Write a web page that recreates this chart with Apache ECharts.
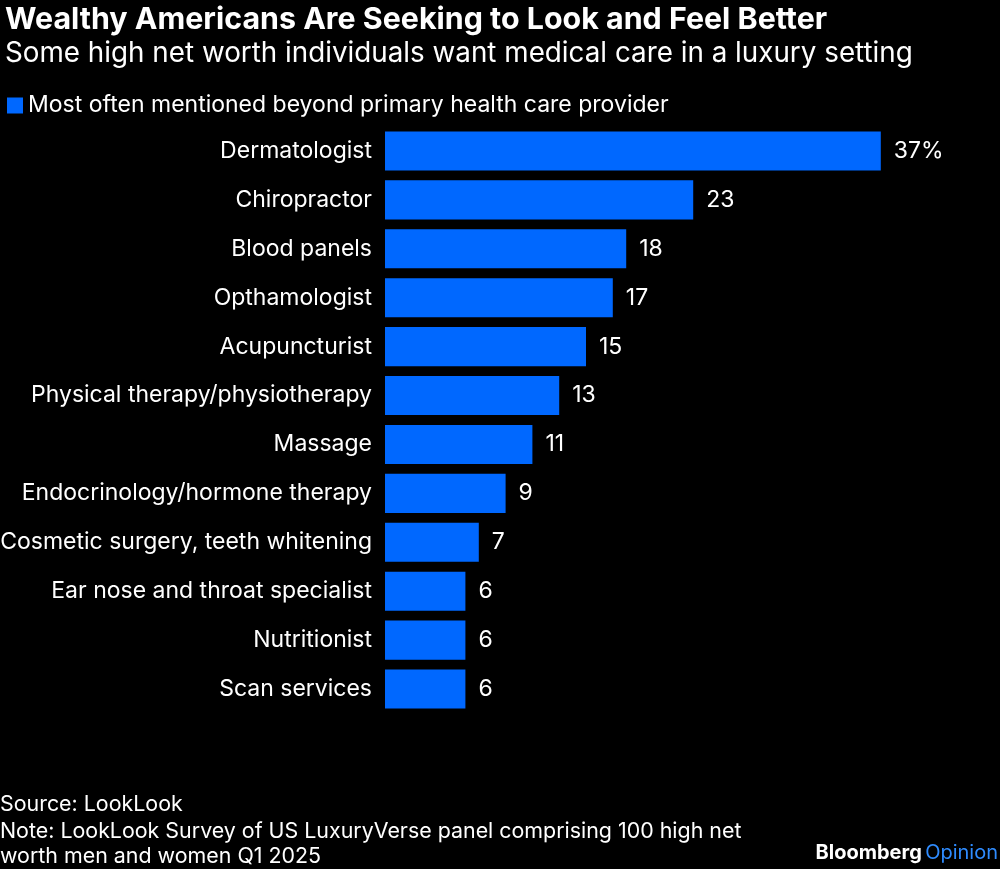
<!DOCTYPE html>
<html><head><meta charset="utf-8">
<script src="https://cdn.jsdelivr.net/npm/echarts@6/dist/echarts.min.js"></script>
<style>html,body{margin:0;padding:0;background:#000;}#c{width:1000px;height:869px;}</style>
</head><body><div id="c"></div>
<script>
const categories = ["Dermatologist","Chiropractor","Blood panels","Opthamologist","Acupuncturist","Physical therapy/physiotherapy","Massage","Endocrinology/hormone therapy","Cosmetic surgery, teeth whitening","Ear nose and throat specialist","Nutritionist","Scan services"];
const values = [37,23,18,17,15,13,11,9,7,6,6,6];
const seriesName = "Most often mentioned beyond primary health care provider";
const font = "Inter, 'Liberation Sans', Arial, sans-serif";
const chart = echarts.init(document.getElementById('c'));
chart.setOption({
  backgroundColor: '#000',
  animation: false,
  title: [
    {text: 'Wealthy Americans Are Seeking to Look and Feel Better', left: 0, top: 0,
     textStyle: {color: '#fff', fontSize: 30.4, fontWeight: 'bold', fontFamily: font}},
    {text: 'Some high net worth individuals want medical care in a luxury setting', left: 0, top: 35,
     textStyle: {color: '#fff', fontSize: 27.8, fontWeight: 'normal', fontFamily: font}}
  ],
  legend: {data: [seriesName], left: 2, top: 89, icon: 'rect', itemWidth: 16, itemHeight: 16, itemGap: 7,
    textStyle: {color: '#fff', fontSize: 23, fontFamily: font}},
  grid: {left: 385, right: 79, top: 126.5, bottom: 155.5, containLabel: false, outerBoundsMode: 'none'},
  xAxis: {type: 'value', min: 0, max: 40, show: false},
  yAxis: {type: 'category', data: categories, inverse: true,
    axisLine: {show: false}, axisTick: {show: false},
    axisLabel: {color: '#fff', fontSize: 23, fontFamily: font, margin: 13}},
  series: [{name: seriesName, type: 'bar', data: values, barCategoryGap: '20%',
    itemStyle: {color: '#0068ff'},
    label: {show: true, position: 'right', distance: 13, color: '#fff', fontSize: 23, fontFamily: font,
      formatter: p => p.dataIndex === 0 ? p.value + '%' : String(p.value)}}],
  graphic: [
    {type: 'text', left: 0, top: 794, style: {text: 'Source: LookLook', fill: '#fff', font: "21.4px Inter, 'Liberation Sans', sans-serif"}},
    {type: 'text', left: 0, top: 819, style: {text: 'Note: LookLook Survey of US LuxuryVerse panel comprising 100 high net\nworth men and women Q1 2025', fill: '#fff', lineHeight: 25, font: "21.4px Inter, 'Liberation Sans', sans-serif"}},
    {type: 'text', right: 2, top: 843, style: {rich: {b: {fill: '#fff', fontWeight: 'bold', fontSize: 20, fontFamily: font}, o: {fill: '#2f8cff', fontSize: 20, fontFamily: font}}, text: '{b|Bloomberg} {o|Opinion}'}}
  ]
});
</script></body></html>
